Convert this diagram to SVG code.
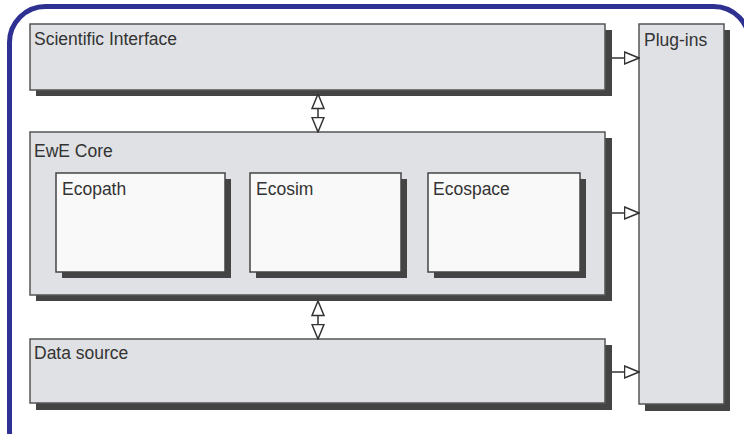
<svg xmlns="http://www.w3.org/2000/svg" width="744" height="434" viewBox="0 0 744 434">
  <style>
    .frame{fill:none;stroke:#2e3192;stroke-width:5}
    .shadow{fill:#444}
    .box{fill:#dfe1e4;stroke:#555;stroke-width:1.5}
    .inner{fill:#f9f9f9;stroke:#444;stroke-width:1.5}
    .lbl{font-family:"Liberation Sans",Arial,sans-serif;font-size:17.5px;fill:#333}
    .conn{stroke:#333;stroke-width:1.5;fill:none}
  </style>
  <defs>
    <marker id="tri" markerUnits="userSpaceOnUse" viewBox="-1 -1 16 14" refX="14.5" refY="6" markerWidth="16" markerHeight="14" orient="auto-start-reverse">
      <path d="M0,0 L14.5,6 L0,12 Z" fill="#fff" stroke="#333" stroke-width="1.5"/>
    </marker>
  </defs>
  <rect width="744" height="434" fill="#fff"/>
  <rect class="frame" x="9.5" y="6.5" width="740" height="460" rx="36" ry="36"/>

  <g id="scientific-interface">
    <rect class="shadow" x="36" y="30" width="576" height="66"/>
    <rect class="box" x="30" y="24" width="575" height="66"/>
    <text class="lbl" x="34" y="45">Scientific Interface</text>
  </g>

  <g id="ewe-core">
    <rect class="shadow" x="36" y="138" width="576" height="163"/>
    <rect class="box" x="30" y="132" width="575" height="163"/>
    <text class="lbl" x="34" y="157">EwE Core</text>
  </g>

  <g id="ecopath">
    <rect class="shadow" x="62" y="179" width="169" height="99"/>
    <rect class="inner" x="56" y="173" width="169" height="99"/>
    <text class="lbl" x="62" y="195">Ecopath</text>
  </g>

  <g id="ecosim">
    <rect class="shadow" x="256" y="179" width="151" height="99"/>
    <rect class="inner" x="250" y="173" width="151" height="99"/>
    <text class="lbl" x="256" y="195">Ecosim</text>
  </g>

  <g id="ecospace">
    <rect class="shadow" x="434" y="179" width="152" height="99"/>
    <rect class="inner" x="428" y="173" width="152" height="99"/>
    <text class="lbl" x="433" y="195">Ecospace</text>
  </g>

  <g id="data-source">
    <rect class="shadow" x="36" y="345" width="576" height="65"/>
    <rect class="box" x="30" y="339" width="575" height="64"/>
    <text class="lbl" x="34" y="359">Data source</text>
  </g>

  <g id="plug-ins">
    <rect class="shadow" x="645" y="30" width="85" height="381"/>
    <rect class="box" x="639" y="24" width="85" height="380"/>
    <text class="lbl" x="644" y="46">Plug-ins</text>
  </g>

  <g id="connectors">
    <line class="conn" x1="318" y1="94" x2="318" y2="132" marker-start="url(#tri)" marker-end="url(#tri)"/>
    <line class="conn" x1="318" y1="301" x2="318" y2="339" marker-start="url(#tri)" marker-end="url(#tri)"/>
    <line class="conn" x1="612" y1="58" x2="639" y2="58" marker-end="url(#tri)"/>
    <line class="conn" x1="612" y1="213" x2="639" y2="213" marker-end="url(#tri)"/>
    <line class="conn" x1="612" y1="372" x2="639" y2="372" marker-end="url(#tri)"/>
  </g>
</svg>
